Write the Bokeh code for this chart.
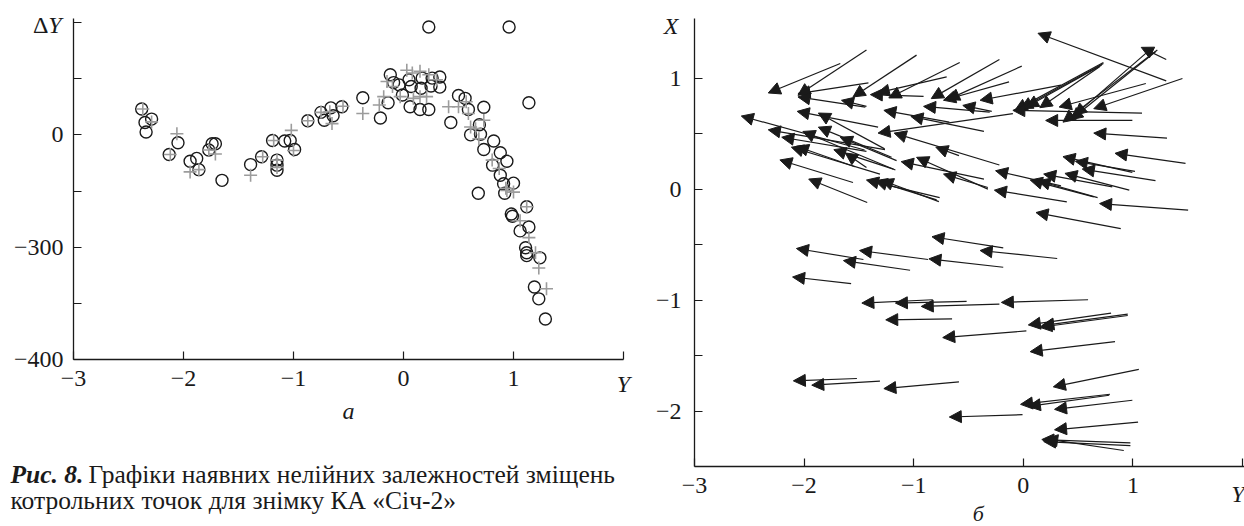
from bokeh.plotting import figure
from bokeh.models import ColumnDataSource, Arrow, NormalHead, Label, FixedTicker, Range1d
from bokeh.layouts import row
from bokeh.embed import file_html
from bokeh.resources import INLINE

# ---------------- data: panel a (Y vs dY) ----------------
circ_y = [-2.38, -2.35, -2.29, -2.34, -2.13, -2.05, -1.94, -1.88, -1.86, -1.77, -1.74, -1.71, -1.65,
          -1.39, -1.29, -1.19, -1.15, -1.15, -1.15, -1.08, -1.03, -0.99, -0.87, -0.75, -0.72, -0.66,
          -0.64, -0.56, -0.37, -0.21, -0.14, -0.12, -0.09, -0.04, -0.01, 0.05, 0.07, 0.06, 0.15, 0.23,
          0.16, 0.17, 0.25, 0.26, 0.33, 0.33, 0.23, 0.43, 0.50, 0.56, 0.59, 0.61, 0.69, 0.70, 0.73,
          0.73, 0.82, 0.88, 0.81, 0.94, 0.88, 0.91, 1.00, 0.92, 0.68, 0.98, 0.99, 1.12, 1.14, 1.06,
          1.11, 1.12, 1.12, 1.24, 1.19, 1.23, 1.29, 0.96, 1.14]
circ_d = [46, 22, 28, 5, -35, -14, -47, -42, -62, -27, -16, -16, -81,
          -53, -39, -10, -45, -54, -63, -11, -10, -26, 25, 40, 26, 48,
          34, 50, 66, 30, 57, 107, 93, 89, 71, 98, 86, 50, 45, 45,
          83, 101, 87, 101, 103, 85, 192, 22, 70, 65, 45, 0, 18, 1, 49,
          -26, -11, -32, -54, -47, -72, -87, -86, -104, -104, -141, -145, -128, -164, -171,
          -201, -210, -215, -219, -271, -292, -328, 192, 57]
plus_y = [-2.37, -2.29, -2.06, -2.12, -1.94, -1.86, -1.77, -1.71, -1.39, -1.28, -1.18, -1.15, -1.15,
          -1.02, -1.00, -0.87, -0.75, -0.67, -0.65, -0.55, -0.37, -0.22, -0.18, -0.15, -0.10, -0.03,
          0.03, 0.08, 0.15, 0.23, 0.30, 0.09, 0.15, 0.21, 0.41, 0.50, 0.57, 0.59, 0.61, 0.655, 0.73,
          0.685, 0.806, 0.87, 0.93, 0.94, 1.00, 1.06, 1.12, 1.14, 1.20, 1.23, 1.30]
plus_d = [46, 23, 2, -35, -66, -62, -27, -34, -72, -39, -10, -45, -58,
          8, -28, 25, 40, 41, 20, 51, 38, 53, 68, 95, 86, 68,
          115, 110, 113, 107, 98, 65, 68, 68, 50, 50, 59, 38, 14, 11, 26,
          -7, -45, -60, -95, -99, -102, -153, -128, -183, -210, -237, -274]

a_xticks = [-3, -2, -1, 0, 1, 2]
a_xlabels = {-3: "\u22123", -2: "\u22122", -1: "\u22121", 0: "0", 1: "1", 2: ""}
a_yticks = [-400, -300, -200, -100, 0, 100, 200]
a_ylabels = {-400: "\u2212400", -300: "", -200: "\u2212300", -100: "", 0: "0", 100: "", 200: ""}

# ---------------- data: panel b (arrows: tail Y, tail X -> head Y, head X) ----------------
tail_Y = [-1.67, -1.431, -1.413, -1.441, -1.431, -0.974, -0.910, -0.699, -0.580, -0.218, -0.130, -0.014,
          -0.288, 0.344, 0.731, 0.731, 0.714, 0.696, 1.118, 1.452, 1.083, 0.995, 1.223, 1.206, 1.170,
          1.304, 1.304, -0.095, -0.675, -0.359, -0.306,
          -1.325, -1.265, -1.448, -1.262, -1.431, -1.308, -1.536, -1.167, -1.202, -1.156, -1.185, -1.431,
          -1.554, -1.424, -0.763, -0.791, -0.770, -0.218, -0.587, -0.359, -0.323, -0.323,
          0.344, 0.643, 0.397, 0.678, 0.812, 0.995, 1.019, 1.206, 0.967, 1.311, 1.480, 1.504, 0.889,
          -0.183, 0.309, -1.459, -0.868, -0.183, -1.033, -1.571,
          -0.826, -0.517, 0.591, -0.218, -0.650, 0.801, 0.953, 0.953, 0.028, 0.837,
          -1.518, -1.308, -0.587, 1.054, 0.791, 0.784, 0.995, -0.007, 1.047, 0.977, 0.977, 0.917]
tail_X = [1.133, 1.254, 0.958, 0.740, 0.746, 1.208, 0.837, 1.012, 1.142, 1.169, 0.967, 1.109,
          0.701, 0.937, 1.142, 1.133, 1.118, 1.103, 0.952, 0.997, 0.686, 0.619, 1.254, 1.239, 1.269,
          1.169, 0.976, 0.680, 0.604, 0.520, 0.695,
          0.559, 0.363, 0.353, 0.356, 0.341, 0.136, 0.202, 0.172, 0.287, 0.257, 0.181, 0.196,
          0.060, -0.121, -0.076, -0.097, -0.112, 0.218, 0.302, 0.091, 0.000, 0.015,
          0.030, -0.069, -0.115, -0.076, 0.021, 0.151, 0.160, 0.076, -0.009, 0.459, 0.233, -0.190, -0.356,
          -0.529, -0.625, -0.634, -0.634, -0.704, -0.731, -0.852,
          -0.997, -1.012, -0.997, -1.036, -1.169, -1.118, -1.127, -1.139, -1.278, -1.375,
          -1.707, -1.731, -1.737, -1.625, -1.849, -1.858, -1.903, -2.033, -2.100, -2.287, -2.311, -2.356]
head_Y = [-2.327, -2.056, -2.056, -2.056, -1.659, -1.554, -1.395, -1.332, -1.227, -0.840, -0.728, -0.692,
          -0.552, -0.394, -0.077, -0.025, 0.028, 0.151, 0.327, 0.643, -0.095, 0.204, 0.362, 0.432, 0.467,
          1.076, 0.134, -1.325, -1.272, -1.026, -0.910,
          -2.063, -1.870, -2.573, -2.327, -2.204, -2.116, -2.070, -2.011, -1.870, -1.670, -1.729, -1.624,
          -2.221, -1.958, -1.431, -1.353, -1.297, -1.178, -0.798, -1.114, -0.974, -0.728,
          -0.253, 0.063, -0.264, 0.134, 0.186, 0.362, 0.475, 0.538, 0.380, 0.643, 0.837, 0.696, 0.116,
          -0.833, -0.394, -2.070, -1.494, -0.861, -1.641, -2.105,
          -1.473, -1.167, -0.200, -0.931, -1.255, 0.046, 0.169, 0.151, -0.735, 0.063,
          -2.098, -1.930, -1.272, 0.274, -0.025, 0.046, 0.285, -0.675, 0.285, 0.169, 0.186, 0.204]
head_X = [0.867, 0.846, 0.861, 0.831, 0.801, 0.831, 0.852, 0.867, 0.822, 0.816, 0.801, 0.807,
          0.755, 0.801, 0.710, 0.725, 0.740, 0.734, 0.740, 0.725, 0.710, 0.619, 0.604, 0.625, 0.665,
          1.278, 1.405, 0.505, 0.710, 0.656, 0.746,
          0.701, 0.686, 0.659, 0.535, 0.468, 0.378, 0.387, 0.520, 0.559, 0.468, 0.356, 0.326,
          0.263, 0.091, 0.082, 0.076, 0.082, 0.505, 0.378, 0.248, 0.287, 0.136,
          0.166, 0.082, -0.009, 0.076, 0.136, 0.293, 0.251, 0.181, 0.142, 0.505, 0.323, -0.130, -0.211,
          -0.429, -0.553, -0.535, -0.553, -0.628, -0.644, -0.792,
          -1.027, -1.027, -1.021, -1.057, -1.178, -1.224, -1.230, -1.245, -1.338, -1.465,
          -1.728, -1.767, -1.798, -1.782, -1.940, -1.958, -1.985, -2.054, -2.169, -2.257, -2.275, -2.251]

b_xticks = [-3, -2, -1, 0, 1, 2]
b_xlabels = {-3: "\u22123", -2: "\u22122", -1: "\u22121", 0: "0", 1: "1", 2: ""}
b_yticks = [-2, -1.5, -1, -0.5, 0, 0.5, 1]
b_ylabels = {-2: "\u22122", -1.5: "", -1: "\u22121", -0.5: "", 0: "0", 0.5: "", 1: "1"}

caption_bold = "Рис. 8."
caption_line1 = "Графіки наявних нелійних залежностей зміщень"
caption_line2 = "котрольних точок для знімку КА «Січ-2»"

FONT = "Liberation Serif"
TICK_SIZE = "24px"
CAP_SIZE = "25.5px"
INK = "#1a1a1a"


def canvas_range(v0, v1, p0, p1, size):
    """range whose screen pixel p0 holds value v0 and pixel p1 holds v1 (pixels from left/top)"""
    k = (v1 - v0) / (p1 - p0)
    a = v0 - p0 * k
    b = v0 + (size - p0) * k
    return Range1d(min(a, b), max(a, b))


def style_axes(p, xt, xl, yt, yl, xloc, yloc, xb, yb):
    p.outline_line_color = None
    p.grid.visible = False
    p.xaxis.ticker = FixedTicker(ticks=xt)
    p.yaxis.ticker = FixedTicker(ticks=yt)
    p.xaxis.major_label_overrides = xl
    p.yaxis.major_label_overrides = yl
    p.xaxis.fixed_location = xloc
    p.yaxis.fixed_location = yloc
    p.xaxis.bounds = xb
    p.yaxis.bounds = yb
    for ax in (p.xaxis[0], p.yaxis[0]):
        ax.major_tick_in = 8
        ax.major_tick_out = 0
        ax.minor_tick_line_color = None
        ax.axis_line_color = INK
        ax.axis_line_width = 1.3
        ax.major_tick_line_color = INK
        ax.major_tick_line_width = 1.2
        ax.major_label_text_font = FONT
        ax.major_label_text_font_size = TICK_SIZE
        ax.major_label_text_color = INK
    p.xaxis.major_label_standoff = 11
    p.yaxis.major_label_standoff = 10


def lab(p, x, y, text, dx=0, dy=0, align="center", style="italic", size="24px"):
    p.add_layout(Label(x=x, y=y, text=text, x_offset=dx, y_offset=dy, text_align=align,
                       text_baseline="middle", text_font=FONT, text_font_style=style,
                       text_font_size=size, text_color=INK))


def make_fig(w, h, xr, yr):
    return figure(width=w, height=h, x_range=xr, y_range=yr, output_backend="svg",
                  toolbar_location=None, min_border=0, min_border_left=0, min_border_right=0,
                  min_border_top=0, min_border_bottom=0)


# ---------------- panel a ----------------
p1 = make_fig(640, 526, canvas_range(-3, 2, 73, 623, 640), canvas_range(200, -400, 22, 359, 526))
style_axes(p1, a_xticks, a_xlabels, a_yticks, a_ylabels, -400, -3, (-3, 2), (-400, 207))
p1.scatter(circ_y, circ_d, marker="circle", size=12, fill_color=None, line_color=INK, line_width=1.4)
p1.scatter(plus_y, plus_d, marker="cross", size=13, line_color="#9c9c9c", line_width=1.6)

lab(p1, -3, 200, "Y", dx=-12, dy=-2, align="right")
lab(p1, -3, 200, "Δ", dx=-25, dy=-2, align="right", style="normal")
lab(p1, 2, -400, "Y", dy=-24)
lab(p1, -0.5, -400, "а", dy=-51)
lab(p1, -3, -400, caption_bold, dx=-63, dy=-115, align="left", style="bold italic", size=CAP_SIZE)
lab(p1, -3, -400, caption_line1, dx=15, dy=-115, align="left", style="normal", size=CAP_SIZE)
lab(p1, -3, -400, caption_line2, dx=-63, dy=-141, align="left", style="normal", size=CAP_SIZE)

# ---------------- panel b ----------------
p2 = make_fig(604, 526, canvas_range(-3, 2, 54, 602, 604), canvas_range(1, -2.5, 77.7, 466, 526))
style_axes(p2, b_xticks, b_xlabels, b_yticks, b_ylabels, -2.5, -3, (-3, 2.05), (-2.5, 1.54))
p2.yaxis.major_label_standoff = 13

src = ColumnDataSource(dict(x0=tail_Y, y0=tail_X, x1=head_Y, y1=head_X))
p2.add_layout(Arrow(end=NormalHead(size=12, fill_color=INK, line_color=INK, line_width=1),
                    x_start="x0", y_start="y0", x_end="x1", y_end="y1", source=src,
                    line_color=INK, line_width=1.2))

lab(p2, -3, 1.47, "X", dx=-16, align="right")
lab(p2, 2, -2.5, "Y", dx=2, dy=-27, align="right")
lab(p2, -0.41, -2.5, "б", dy=-47, size="22px")

layout = row(p1, p2)
open("out.html", "w").write(file_html(layout, INLINE))
